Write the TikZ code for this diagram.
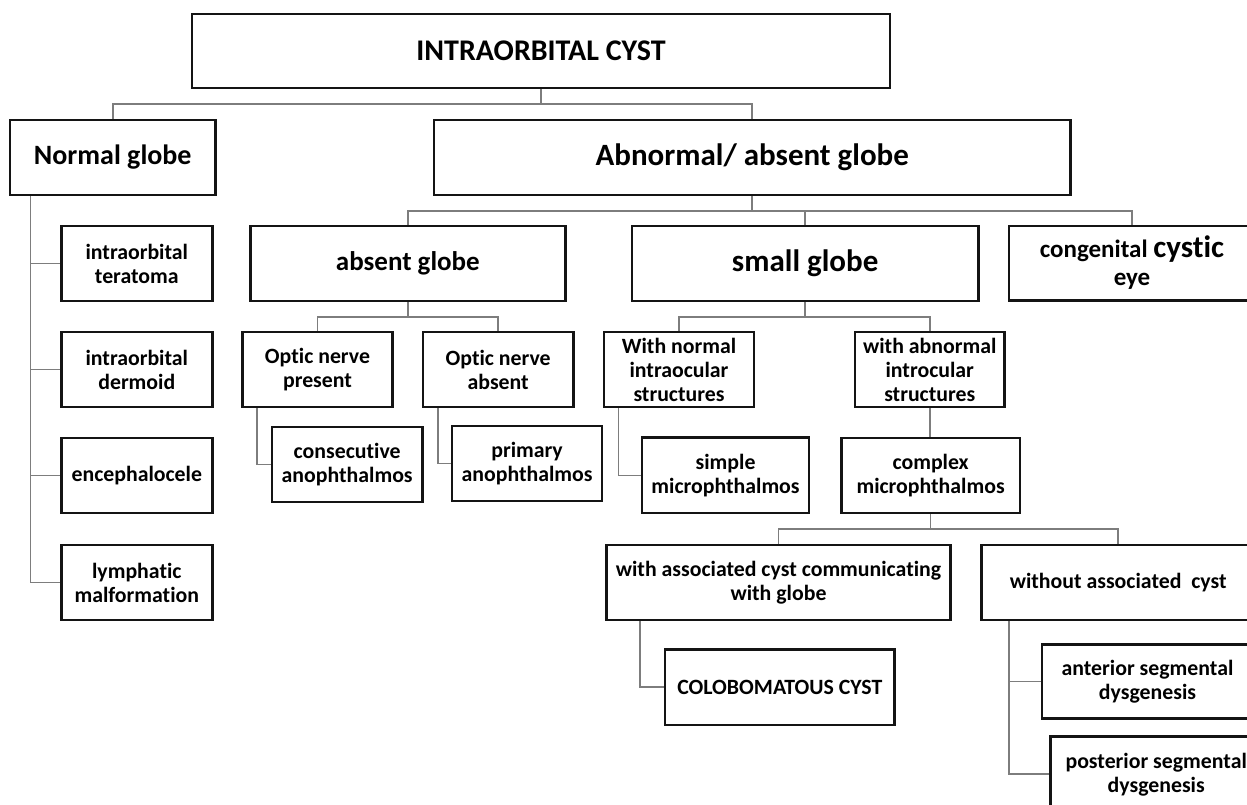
\documentclass[tikz,border=0pt]{standalone}
\usepackage{fontspec}
\setmainfont{Carlito}[Ligatures={NoCommon}]
\definecolor{conncol}{RGB}{125,125,125}
\definecolor{boxcol}{RGB}{20,20,20}
\newcommand{\smallfs}{\bfseries\fontsize{21.8}{24}\selectfont}
\begin{document}
\begin{tikzpicture}[x=1pt,y=-1pt,
  box/.style={draw=boxcol, line width=2.5pt, fill=white, inner sep=0pt, align=center, font=\smallfs},
  conn/.style={draw=conncol, line width=1.6pt},
  sz/.style 2 args={minimum width=#1pt, minimum height=#2pt}]
\useasboundingbox (0,0) rectangle (1247,805);
\fill[white] (0,0) rectangle (1247,805);
\clip (0,0) rectangle (1247,805);

% level 0
\node[box, sz={698}{74}, font=\bfseries\fontsize{30}{34}\selectfont] (title) at (541,51) {INTRAORBITAL CYST};
% level 1
\node[box, sz={205.5}{75}, font=\bfseries\fontsize{28}{32}\selectfont] (normal) at (112.75,157.5) {Normal globe};
\node[box, sz={636.5}{75}, font=\bfseries\fontsize{31}{34}\selectfont] (abn) at (752.25,157.5) {Abnormal/ absent globe};
% normal globe children
\node[box, sz={151}{75}] (teratoma) at (136.8,263.5) {intraorbital\\teratoma};
\node[box, sz={151}{75}] (dermoid) at (136.8,369.5) {intraorbital\\dermoid};
\node[box, sz={151}{75}] (enceph) at (136.8,475.5) {encephalocele};
\node[box, sz={151}{75}] (lymph) at (136.8,582.5) {lymphatic\\malformation};
% level 2
\node[box, sz={315.1}{75}, font=\bfseries\fontsize{27}{30}\selectfont] (absent) at (407.85,263.5) {absent globe};
\node[box, sz={346.7}{75}, font=\bfseries\fontsize{31}{34}\selectfont] (small) at (805.15,263.5) {small globe};
\node[box, sz={246}{74.5}, font=\bfseries\fontsize{25}{28}\selectfont] (cong) at (1132,263) {congenital {\fontsize{31}{28}\selectfont cystic}\\eye};
% absent globe children
\node[box, sz={150.2}{75}] (present) at (317.5,369.5) {Optic nerve\\present};
\node[box, sz={150.3}{75}] (nerveabs) at (498.15,369.5) {Optic nerve\\absent};
\node[box, sz={150.3}{75}] (consec) at (347.15,464.5) {consecutive\\anophthalmos};
\node[box, sz={150.2}{75}] (primary) at (527.1,463.5) {primary\\anophthalmos};
% small globe children
\node[box, sz={150.4}{75}] (withnorm) at (679,369.5) {With normal\\intraocular\\structures};
\node[box, sz={149.9}{75}] (withab) at (929.75,369.5) {with abnormal\\introcular\\structures};
\node[box, sz={167.1}{75.3}] (simple) at (725.55,475.35) {simple\\microphthalmos};
\node[box, sz={178.4}{75}] (complex) at (930.6,475.5) {complex\\microphthalmos};
% complex children
\node[box, sz={344.4}{75}] (assoc) at (778.5,582.5) {with associated cyst communicating\\with globe};
\node[box, sz={273.7}{75}] (without) at (1118.15,582.5) {without associated\ \ cyst};
\node[box, sz={229.6}{75.7}] (colob) at (779.8,687.15) {COLOBOMATOUS CYST};
\node[box, sz={211}{74}] (anterior) at (1147.5,681.3) {anterior segmental\\dysgenesis};
\node[box, sz={211.6}{75}] (posterior) at (1156.2,774.2) {posterior segmental\\dysgenesis};

% connectors
\coordinate (b0) at (541,104);
\draw[conn] (title.south) -- (title.south |- b0) -| (normal.north);
\draw[conn] (title.south |- b0) -| (abn.north);

\draw[conn] ([xshift=21.6pt]normal.south west) |- (teratoma.west);
\draw[conn] ([xshift=21.6pt]normal.south west) |- (dermoid.west);
\draw[conn] ([xshift=21.6pt]normal.south west) |- (enceph.west);
\draw[conn] ([xshift=21.6pt]normal.south west) |- (lymph.west);

\coordinate (b1) at (752,211);
\draw[conn] (abn.south) -- (abn.south |- b1) -| (absent.north);
\draw[conn] (abn.south |- b1) -| (small.north);
\draw[conn] (abn.south |- b1) -| (cong.north);

\coordinate (b2) at (408,317);
\draw[conn] (absent.south) -- (absent.south |- b2) -| (present.north);
\draw[conn] (absent.south |- b2) -| (nerveabs.north);
\draw[conn] ([xshift=16pt]present.south west) |- (consec.west);
\draw[conn] ([xshift=16pt]nerveabs.south west) |- (primary.west);

\draw[conn] (small.south) -- (small.south |- b2) -| (withnorm.north);
\draw[conn] (small.south |- b2) -| (withab.north);
\draw[conn] ([xshift=16pt]withnorm.south west) |- (simple.west);
\draw[conn] (withab.south) -- (withab.south |- complex.north);

\coordinate (b3) at (930,529);
\draw[conn] (complex.south) -- (complex.south |- b3) -| (assoc.north);
\draw[conn] (complex.south |- b3) -| (without.north);
\draw[conn] ([xshift=35pt]assoc.south west) |- (colob.west);
\draw[conn] ([xshift=29pt]without.south west) |- (anterior.west);
\draw[conn] ([xshift=29pt]without.south west) |- (posterior.west);
\end{tikzpicture}
\end{document}
